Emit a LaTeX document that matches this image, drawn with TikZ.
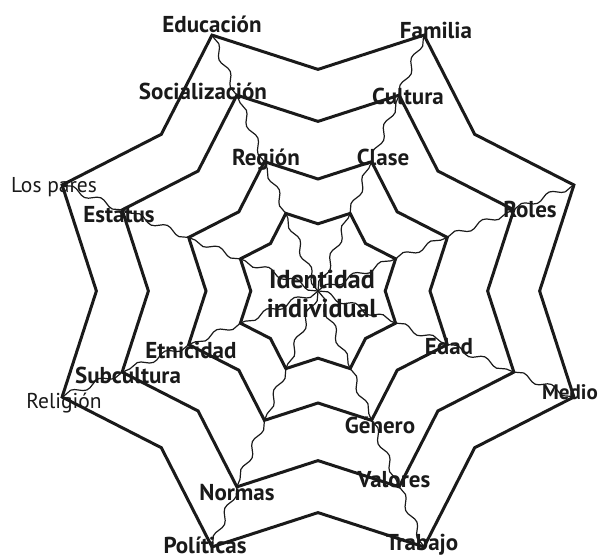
\documentclass[tikz,border=0pt]{standalone}
\usepackage{fontspec}
\setsansfont{PT Sans}
\usetikzlibrary{calc, decorations.pathmorphing}
\definecolor{WebInk}{HTML}{1A1A1A}
\tikzset{
  ring/.style={draw=WebInk, line width=3pt, line join=miter},
  thread/.style={draw=WebInk, line width=1.2pt, decorate, decoration={snake, amplitude=3pt, segment length=30pt}},
  tag/.style={font=\sffamily\bfseries\fontsize{23}{25}\selectfont, text=WebInk, inner sep=0pt, anchor=base},
  lighttag/.style={tag, font=\sffamily\fontsize{21.5}{23}\selectfont}
}

\begin{document}
\begin{tikzpicture}[x=1pt, y=1pt]
\useasboundingbox (0,0) rectangle (600,558);
\coordinate (c) at (318,267);
% web points: odd = spokes, even = dents
\foreach \r [count=\i] in {84,140,212,277}{
  \foreach \j in {0,...,15}{
    \pgfmathsetmacro{\rr}{isodd(\j) ? \r : 0.8*\r}
    \coordinate (p\i-\j) at ($(c)+(22.5*\j:\rr)$);
  }
}
% wavy spokes
\foreach \j in {1,3,...,15}{
  \draw[thread] (c) -- (p1-\j);
  \foreach \i [evaluate=\i as \n using int(\i+1)] in {1,2,3}{
    \draw[thread] (p\i-\j) -- (p\n-\j);
  }
}
% rings
\foreach \i in {1,...,4}{
  \draw[ring] (p\i-0) \foreach \j in {1,...,15}{ -- (p\i-\j) } -- cycle;
}
% labels
\node[tag] (educ) at (212,525) {Educación};
\node[tag] (fam) at (436,519) {Familia};
\node[tag] (soc) at (203,458) {Socialización};
\node[tag] (cult) at (408,453) {Cultura};
\node[tag] (reg) at (266,392) {Región};
\node[tag] (clase) at (383,392) {Clase};
\node[lighttag] (pares) at (54,365) {Los pares};
\node[tag] (estat) at (119,335) {Estatus};
\node[tag] (roles) at (530,340) {Roles};
\node[tag, anchor=center, align=center, font=\sffamily\bfseries\fontsize{26}{29}\selectfont] (ident) at (322,264) {Identidad\\individual};
\node[tag] (etn) at (191,200) {Etnicidad};
\node[tag] (edad) at (449,204) {Edad};
\node[tag] (subc) at (128,175) {Subcultura};
\node[lighttag] (relig) at (64,150) {Religión};
\node[tag, anchor=base east, font=\sffamily\bfseries\fontsize{21}{23}\selectfont] (medio) at (598,159) {Medio};
\node[tag] (gen) at (380,125) {Género};
\node[tag] (norm) at (237,58) {Normas};
\node[tag] (val) at (394,71) {Valores};
\node[tag] (polit) at (205,5) {Políticas};
\node[tag] (trab) at (422,8) {Trabajo};
\end{tikzpicture}
\end{document}
